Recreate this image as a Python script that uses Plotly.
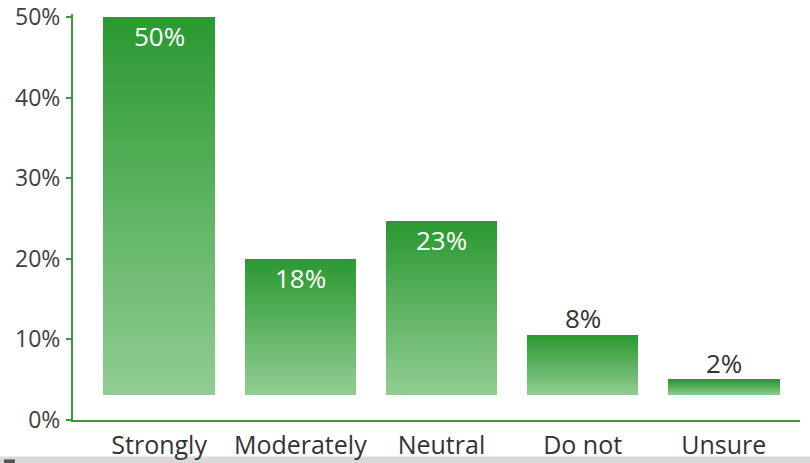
import plotly.graph_objects as go

# Survey responses (percent of respondents)
categories = ["Strongly", "Moderately", "Neutral", "Do not", "Unsure"]
shares = [50, 18, 23, 8, 2]
y_ticks = [0, 10, 20, 30, 40, 50]
y_tick_labels = ["0%", "10%", "20%", "30%", "40%", "50%"]

GREEN = "#3a9a3e"
TOP_RGB = (42, 153, 48)
BOTTOM_RGB = (145, 205, 147)
STEPS = 40
FONT = "Open Sans"


def blend(a, b, t):
    return "rgb({},{},{})".format(*[round(a[i] + (b[i] - a[i]) * t) for i in range(3)])


x_pos = list(range(len(categories)))
fig = go.Figure()

# anchor trace for the visible percentage axis
fig.add_trace(go.Scatter(x=[x_pos[0]], y=[0], mode="markers",
                         marker=dict(opacity=0), hoverinfo="skip", showlegend=False))

# each bar is built from thin stacked slices to give a vertical gradient
for k in range(STEPS):
    f0 = k / STEPS
    f1 = (k + 1) / STEPS
    col = blend(BOTTOM_RGB, TOP_RGB, (k + 0.5) / STEPS)
    fig.add_trace(go.Bar(
        x=x_pos,
        y=[v * (f1 - f0) for v in shares],
        base=[v * f0 for v in shares],
        yaxis="y2",
        width=0.79,
        marker=dict(color=col, line=dict(width=0)),
        hoverinfo="skip",
        showlegend=False,
    ))

annotations = []
for i, v in enumerate(shares):
    inside = v >= 10
    annotations.append(dict(
        x=x_pos[i], y=v, xref="x", yref="y2",
        text=f"{v}%", showarrow=False,
        yanchor="middle", yshift=-19 if inside else 17,
        font=dict(family=FONT, size=26, color="white" if inside else "#333333"),
    ))

fig.update_layout(
    width=810, height=463,
    margin=dict(l=73, r=10, t=14, b=43),
    paper_bgcolor="white", plot_bgcolor="white",
    barmode="overlay", bargap=0,
    annotations=annotations,
    xaxis=dict(
        range=[-0.61, 4.54],
        tickvals=x_pos, ticktext=categories,
        showgrid=False, zeroline=False,
        showline=True, linecolor=GREEN, linewidth=2,
        ticks="", ticklen=0, automargin=False, ticklabelstandoff=2,
        tickfont=dict(family=FONT, size=25, color="#333333"),
    ),
    yaxis=dict(
        range=[0, 50.37],
        tickvals=y_ticks, ticktext=y_tick_labels,
        showgrid=False, zeroline=False,
        showline=True, linecolor=GREEN, linewidth=2,
        ticks="outside", ticklen=5, tickwidth=2, tickcolor=GREEN,
        automargin=False, ticklabelstandoff=1,
        tickfont=dict(family=FONT, size=23, color="#404040"),
    ),
    yaxis2=dict(overlaying="y", range=[-3.31, 50.4], visible=False),
    shapes=[
        dict(type="rect", xref="paper", yref="paper",
             x0=-0.11, x1=1.02, y0=-0.115, y1=-0.09,
             fillcolor="#d9d9d9", line=dict(width=0), layer="below"),
        dict(type="rect", xref="paper", yref="paper",
             x0=-0.095, x1=-0.08, y0=-0.115, y1=-0.097,
             fillcolor="#555555", line=dict(width=0), layer="below"),
    ],
)

fig.write_html("out.html")
